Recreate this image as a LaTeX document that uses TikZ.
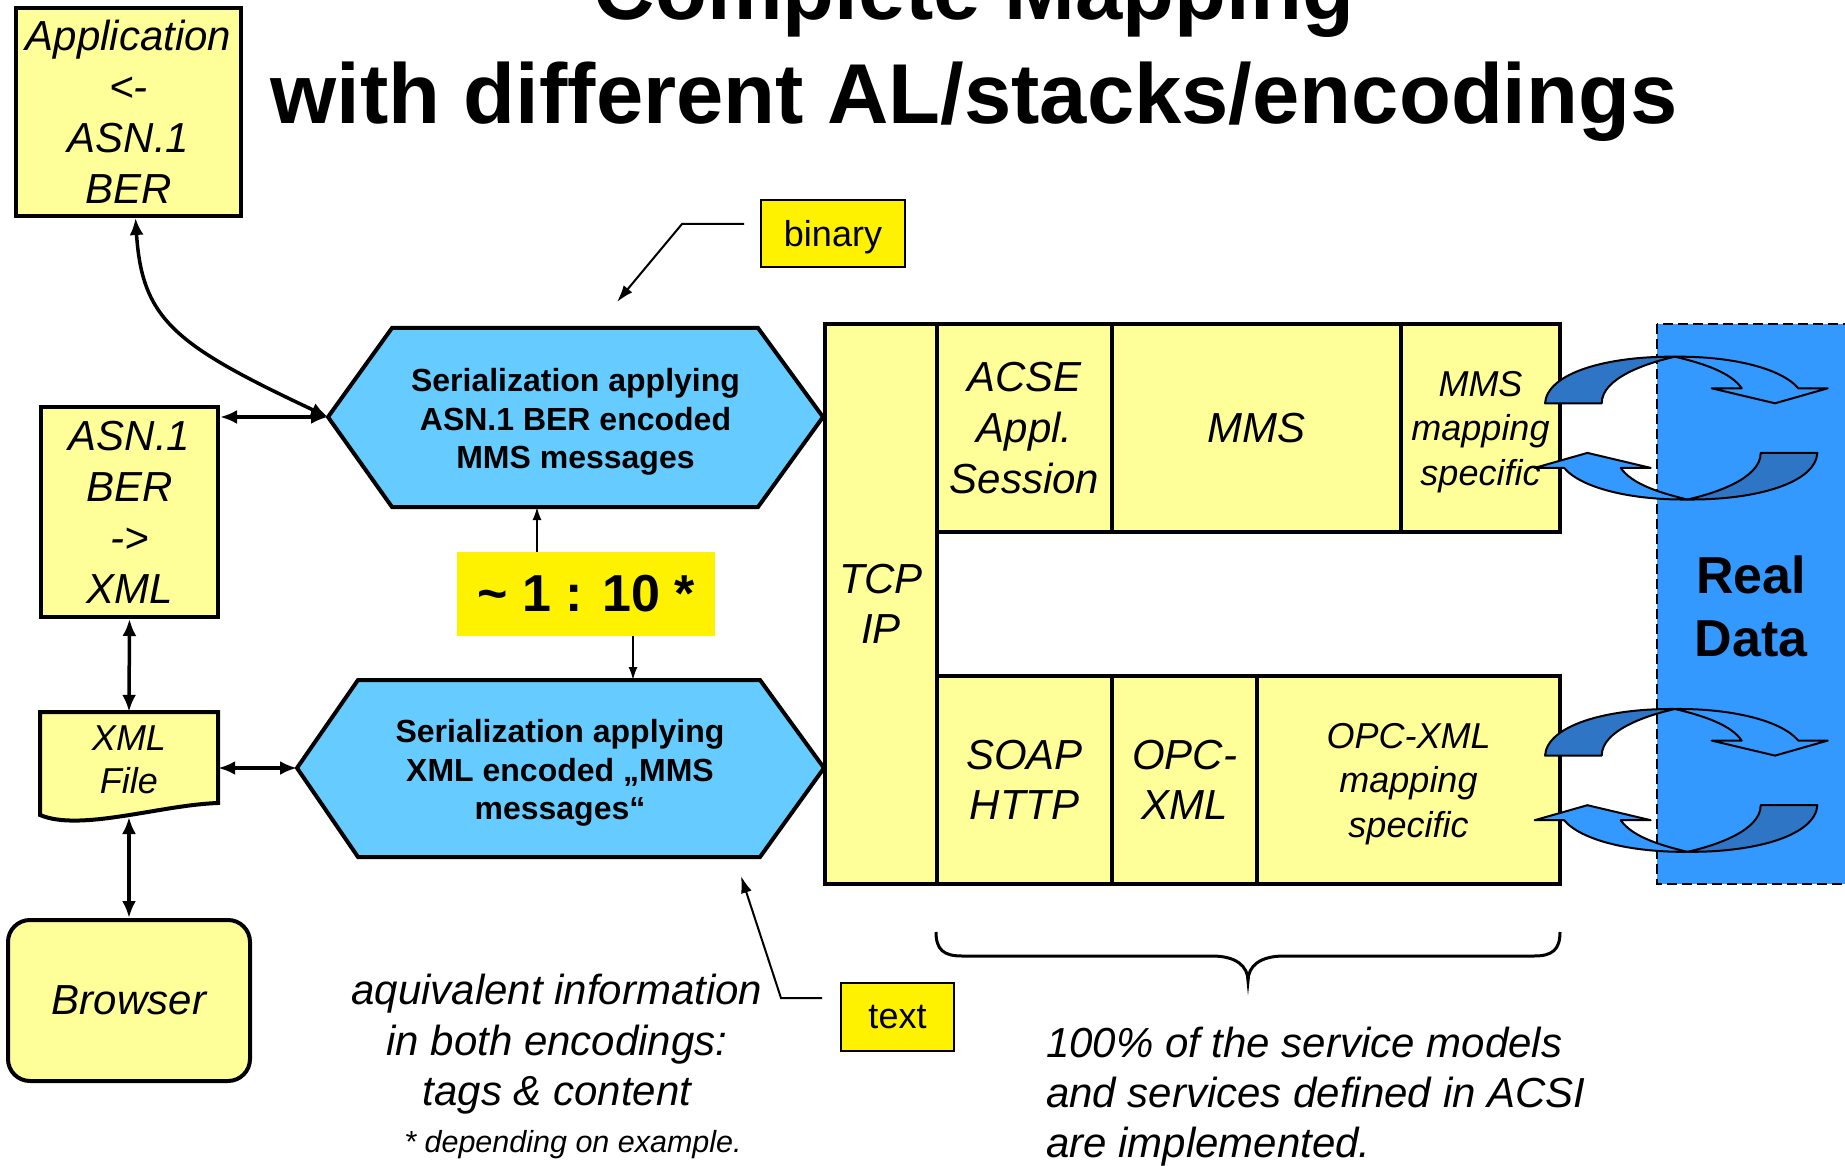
\documentclass[tikz,border=0pt]{standalone}
\usepackage{fontspec}
\setmainfont{Liberation Sans}
\usetikzlibrary{arrows.meta}
\usetikzlibrary{calc}

\definecolor{paleyellow}{RGB}{255,255,153}
\definecolor{hexblue}{RGB}{102,204,255}
\definecolor{datablue}{RGB}{51,153,255}
\definecolor{darkblue}{RGB}{46,117,198}

\begin{document}
\begin{tikzpicture}[x=1pt,y=-1pt,
    yelbox/.style={draw, line width=4pt, fill=paleyellow, inner sep=0pt, align=center,
        font=\itshape\fontsize{42}{51}\selectfont},
    stack/.style={draw, line width=4.5pt, fill=paleyellow, inner sep=0pt, align=center,
        font=\itshape\fontsize{42}{50}\selectfont},
    smalltext/.style={font=\itshape\fontsize{36}{44.5}\selectfont, text depth=0pt},
    hexfill/.style={draw, line width=4pt, fill=hexblue},
    hextext/.style={align=center, inner sep=0pt, font=\bfseries\fontsize{32}{38.5}\selectfont},
    tag/.style={draw, line width=2pt, fill=yellow, inner sep=0pt, font=\fontsize{36}{43}\selectfont},
    link/.style={line width=3.5pt, {Latex[length=17pt,width=14pt]}-{Latex[length=17pt,width=14pt]}},
    thinlink/.style={line width=1.8pt, -{Latex[length=13pt,width=9pt]}},
    tagline/.style={line width=2pt, -{Latex[length=17pt,width=11pt]}},
    remark/.style={align=center, inner sep=0pt, font=\itshape\fontsize{42}{50.5}\selectfont},
    swirl/.style={draw, line width=2pt, line join=round}
    ]
\useasboundingbox (0,0) rectangle (1845,1166);
\clip (0,0) rectangle (1845,1166);

\node[anchor=base, font=\bfseries\fontsize{85}{104}\selectfont] (title1) at (974,20) {Complete Mapping};
\node[anchor=base, font=\bfseries\fontsize{85}{104}\selectfont] (title2) at (974,124) {with different AL/stacks/encodings};

% left column
\node[yelbox, minimum width=225pt, minimum height=208pt] (app) at (128.5,112) {Application\\<-\\ASN.1\\BER};
\node[yelbox, minimum width=177pt, minimum height=210pt] (asn) at (129.5,512) {ASN.1\\BER\\->\\XML};
\filldraw[line width=4pt, fill=paleyellow] (40,712) -- (218,712) -- (218,803)
    .. controls (160,805) and (80,832) .. (40,815) -- cycle;
\node[inner sep=0pt, minimum width=178pt, minimum height=112pt] (xmlfile) at (129,768) {};
\node[align=center, inner sep=0pt, font=\itshape\fontsize{36}{43}\selectfont] (xmltext) at (129,760) {XML\\File};
\coordinate (xmlwave) at (129,817);
\node[yelbox, rounded corners=22pt, minimum width=242pt, minimum height=161pt] (browser) at (129,1000.5) {Browser};

% serialization
\coordinate (h1w) at (328,417);
\coordinate (h1e) at (823,417);
\coordinate (h1s) at (537,507);
\filldraw[hexfill] (h1w) -- (392,328) -- (758,328) -- (h1e) -- (758,507) -- (392,507) -- cycle;
\node[hextext] (hex1) at (575.5,422) {Serialization applying\\ASN.1 BER encoded\\MMS messages};

\coordinate (h2w) at (297,768);
\coordinate (h2e) at (824,768);
\coordinate (h2n) at (633,680);
\filldraw[hexfill] (h2w) -- (358,680) -- (760,680) -- (h2e) -- (760,857) -- (358,857) -- cycle;
\node[hextext] (hex2) at (560,773) {Serialization applying\\XML encoded „MMS\\messages“};

\node[fill=yellow, inner sep=0pt, minimum width=258pt, minimum height=84pt,
    font=\bfseries\fontsize{52}{60}\selectfont] (ratio) at (586,594) {\textasciitilde{} 1 : 10 *};

\draw[link] ([xshift=7pt]app.south) .. controls (142,320) and (175,345) .. (h1w);
\draw[link] (asn.east |- h1w) -- (h1w);
\draw[link] (asn.south) -- (xmlfile.north);
\draw[link] (xmlfile.east) -- (h2w);
\draw[link] (xmlwave) -- (browser.north);
\draw[thinlink] (h1s |- ratio.north) -- (h1s);
\draw[thinlink] (h2n |- ratio.south) -- (h2n);

% stacks
\node[stack, minimum width=112pt, minimum height=560pt] (tcp) at (881,604) {TCP\\IP};
\node[stack, minimum width=175pt, minimum height=208pt, font=\itshape\fontsize{42}{51}\selectfont] (acse) at (1024.5,428) {ACSE\\Appl.\\Session};
\node[stack, minimum width=289pt, minimum height=208pt] (mms) at (1256.5,428) {MMS};
\node[stack, smalltext, minimum width=159pt, minimum height=208pt] (mmsmap) at (1480.5,428) {MMS\\mapping\\specific};
\node[stack, minimum width=175pt, minimum height=208pt] (soap) at (1024.5,780) {SOAP\\HTTP};
\node[stack, minimum width=145pt, minimum height=208pt] (opc) at (1184.5,780) {OPC-\\XML};
\node[stack, smalltext, minimum width=303pt, minimum height=208pt] (opcmap) at (1408.5,780) {OPC-XML\\mapping\\specific};

\filldraw[fill=datablue, line width=2pt, dash pattern=on 10pt off 5pt] (1657,324) rectangle (1870,884);
\node[align=center, inner sep=0pt, font=\bfseries\fontsize{52}{63}\selectfont] (realdata) at (1751,606) {Real\\Data};

\foreach \dy in {0,352.3}{
  \begin{scope}[shift={(1681.2,428.1+\dy)}]
    \foreach \rot in {0,180}{
      \begin{scope}[rotate=\rot]
        \filldraw[swirl, fill=darkblue] (-136.2,-24.8) .. controls (-134,-55) and (-75,-72) .. (-6.2,-71.4)
            .. controls (-35,-65) and (-79.5,-50) .. (-79.5,-24.8) -- cycle;
        \filldraw[swirl, fill=datablue] (-6.2,-71.4) .. controls (50,-72) and (100,-60) .. (117.1,-39.8)
            -- (146.5,-39.8) -- (93.8,-24.8) -- (30.5,-39.8) -- (60.5,-39.8)
            .. controls (50,-55) and (25,-64) .. (-6.2,-71.4) -- cycle;
      \end{scope}
    }
  \end{scope}
}

% labels
\node[tag, text depth=0pt, minimum width=144pt, minimum height=67pt] (binary) at (833,233.5) {binary};
\draw[tagline] ([shift={(-16,-9.5)}]binary.west) -- (682,224) -- (617,302);
\node[tag, minimum width=113pt, minimum height=68pt] (texttag) at (897.5,1017) {\raisebox{-3.5pt}{text}};
\draw[tagline] ([shift={(-18,-19)}]texttag.west) -- (781,998) -- (741,876);

\node[remark] (equiv) at (557,1044.5) {aquivalent information\\in both encodings:\\tags \& content};
\node[anchor=base, inner sep=0pt, font=\itshape\fontsize{30.5}{36}\selectfont] (footnote) at (573,1152) {* depending on example.};

\draw[line width=3pt] (936,932) .. controls (936,950) and (944,956) .. (962,956) -- (1212,956)
    .. controls (1236,956) and (1248,966) .. (1248,981)
    .. controls (1248,966) and (1260,956) .. (1284,956) -- (1534,956)
    .. controls (1552,956) and (1560,950) .. (1560,932);
\node[anchor=north west, align=left, inner sep=0pt, font=\itshape\fontsize{42}{50}\selectfont] (coverage) at (1046,1026.5)
    {100\% of the service models\\and services defined in ACSI\\are implemented.};
\end{tikzpicture}
\end{document}
